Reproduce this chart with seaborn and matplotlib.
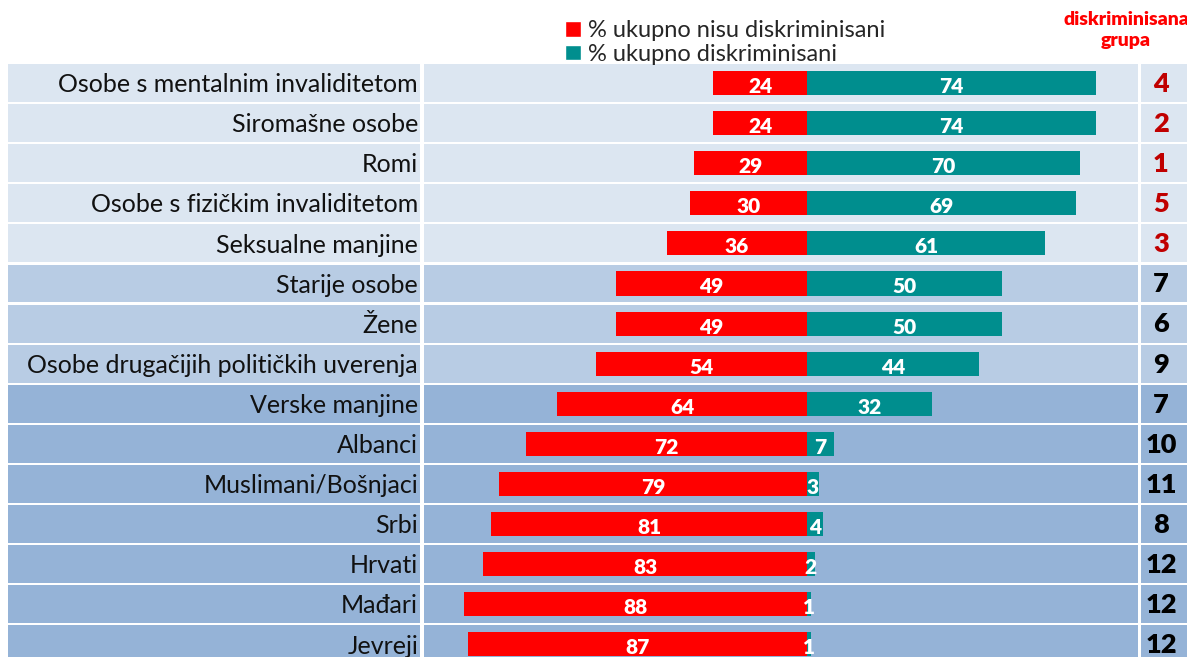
import numpy as np
import pandas as pd
import seaborn as sns
from matplotlib import pyplot as plt
from matplotlib.patches import Rectangle, Patch

groups = ['Osobe s mentalnim invaliditetom', 'Siromašne osobe', 'Romi',
          'Osobe s fizičkim invaliditetom', 'Seksualne manjine', 'Starije osobe',
          'Žene', 'Osobe drugačijih političkih uverenja', 'Verske manjine',
          'Albanci', 'Muslimani/Bošnjaci', 'Srbi', 'Hrvati', 'Mađari', 'Jevreji']
not_discr = [24, 24, 29, 30, 36, 49, 49, 54, 64, 72, 79, 81, 83, 88, 87]
discr = [74, 74, 70, 69, 61, 50, 50, 44, 32, 7, 3, 4, 2, 1, 1]
rank = [4, 2, 1, 5, 3, 7, 6, 9, 7, 10, 11, 8, 12, 12, 12]
legend_labels = ['% ukupno nisu diskriminisani', '% ukupno diskriminisani']
rank_header = 'diskriminisana\ngrupa'

RED = '#FF0000'
TEAL = '#008E8E'
ROW_COLORS = ['#DCE6F1'] * 5 + ['#B8CCE4'] * 3 + ['#95B3D7'] * 7

df = pd.DataFrame({'group': groups, 'left': [-v for v in not_discr], 'right': discr})

sns.set_style('white')
plt.rcParams['font.family'] = ['Lato', 'DejaVu Sans']

W, H = 1187, 657
fig = plt.figure(figsize=(W / 100, H / 100), dpi=100)
ax = fig.add_axes([0, 0, 1, 1])

# px -> data: zero at x=807, 3.9 px per percent; row i centre at 83 + 40.1*i
px_per = 3.9
x0 = 807
pitch = 40.1
ax.set_xlim(-x0 / px_per, (W - x0) / px_per)

trans = ax.get_yaxis_transform()
gap = 2.2 / pitch
for i, c in enumerate(ROW_COLORS):
    for xa, xb in [(8, 420), (424, 1138), (1141, 1200)]:
        ax.add_patch(Rectangle((xa / W, i - 0.5 + gap / 2), (xb - xa) / W, 1 - gap,
                               transform=trans, facecolor=c, edgecolor='none', zorder=0))

sns.barplot(data=df, x='left', y='group', color=RED, width=0.6, saturation=1,
            orient='h', ax=ax, zorder=2, linewidth=0)
sns.barplot(data=df, x='right', y='group', color=TEAL, width=0.6, saturation=1,
            orient='h', ax=ax, zorder=2, linewidth=0)

for cont, vals in [(ax.containers[0], not_discr), (ax.containers[1], discr)]:
    texts = ax.bar_label(cont, labels=[str(v) for v in vals], label_type='center',
                         color='white', fontsize=15, fontweight='heavy')
    for t in texts:
        t.xyann = (0, -2.5)

ax.set_ylim(14 + (H - 83 - 14 * pitch) / pitch, -83 / pitch)

for i, g in enumerate(groups):
    ax.text(418 / W, i + 0.04, g, transform=trans, ha='right', va='center',
            fontsize=18, color='#111111')
    ax.text(1161 / W, i + 0.02, str(rank[i]), transform=trans, ha='center', va='center',
            fontsize=19.5, fontweight='heavy', color='#C00000' if i < 5 else 'black')

fig.text(1126 / W, 1 - 30 / H, rank_header, ha='center', va='center', color='#FF0000',
         fontsize=14, fontweight='heavy', linespacing=1.3)

handles = [Patch(facecolor=RED, label=legend_labels[0]),
           Patch(facecolor=TEAL, label=legend_labels[1])]
fig.legend(handles=handles, loc='upper left', bbox_to_anchor=(556 / W, 1 - 11 / H),
           frameon=False, fontsize=17, handlelength=0.65, handleheight=0.65,
           handletextpad=0.3, labelspacing=0.1, borderaxespad=0)

ax.set_xlabel('')
ax.set_ylabel('')
ax.set_xticks([])
ax.set_yticks([])
for s in ax.spines.values():
    s.set_visible(False)

fig.savefig('out.png', dpi=100, facecolor='white')
